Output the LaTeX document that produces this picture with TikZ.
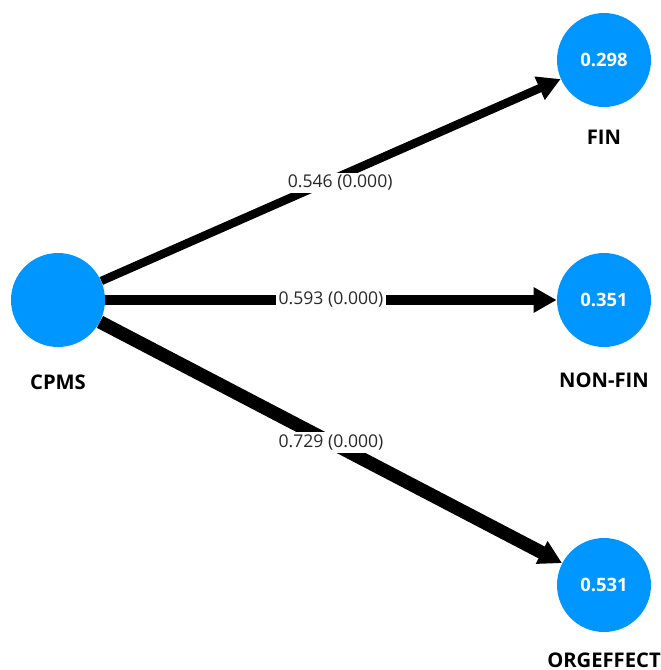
\documentclass[tikz,border=0pt]{standalone}
\usepackage{fontspec}
\setmainfont{Open Sans}
\usetikzlibrary{arrows.meta}
\definecolor{nodeblue}{RGB}{0,150,255}
\definecolor{pathtext}{RGB}{40,40,40}

\begin{document}
\begin{tikzpicture}[x=0.02cm, y=-0.02cm]
    \tikzstyle{latentnode}=[circle, fill=nodeblue, minimum size=1.88cm, inner sep=0, text=white, font=\bfseries\fontsize{10.5}{12}\selectfont];
    \tikzstyle{varlbl}=[font=\bfseries\fontsize{11.5}{13}\selectfont, inner sep=0];
    \tikzstyle{coeflbl}=[fill=white, text=pathtext, inner sep=1.5pt, font=\fontsize{10}{12}\selectfont];
    \tikzstyle{pathedge}=[draw, -{Triangle[length=0.46cm, width=0.48cm]}];

    \useasboundingbox (0,0) rectangle (660,670);

    \node[latentnode] at (58,300) (cpms) {};
    \node[latentnode] at (604,60) (fin) {0.298};
    \node[latentnode] at (604,300) (nonfin) {0.351};
    \node[latentnode] at (604,585) (orgeffect) {0.531};

    \node[varlbl] at (58,382) (cpmslbl) {CPMS};
    \node[varlbl] at (604,137) (finlbl) {FIN};
    \node[varlbl] at (604,380) (nonfinlbl) {NON-FIN};
    \node[varlbl] at (604,660) (orgeffectlbl) {ORGEFFECT};

    \draw[pathedge, line width=4.8pt] (cpms) -- (fin)
          node[coeflbl, pos=0.52, yshift=-4pt] (w1) {0.546 (0.000)};
    \draw[pathedge, line width=6pt] (cpms) -- (nonfin)
          node[coeflbl, pos=0.5] (w2) {0.593 (0.000)};
    \draw[pathedge, line width=7.6pt] (cpms) -- (orgeffect)
          node[coeflbl, pos=0.5] (w3) {0.729 (0.000)};
  \end{tikzpicture}
\end{document}
